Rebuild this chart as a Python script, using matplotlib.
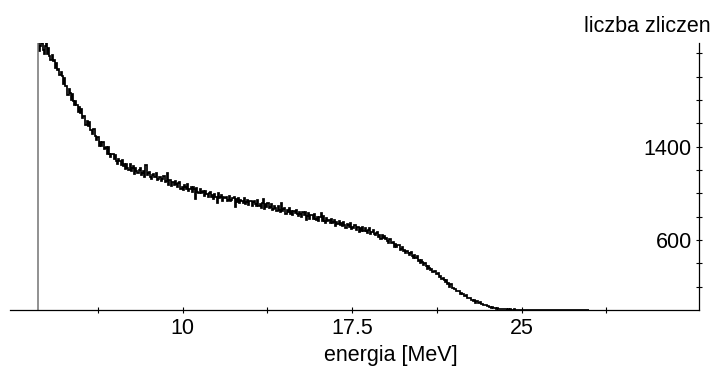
import numpy as np
import matplotlib
matplotlib.use("Agg")
import matplotlib.pyplot as plt

plt.rcParams['font.family'] = ['Liberation Sans', 'DejaVu Sans']

# histogram: first bin edge and bin width [MeV]
E_START = 3.6
BIN = 0.05

# counts per bin (one row = 1 MeV, first row starts at 3.6)
counts = [
    2292, 2220, 2264, 2286, 2227, 2197, 2260, 2330,
    2193, 2250, 2176, 2141, 2190, 2133, 2143, 2072, 2122, 2059, 2069, 2013, 2042, 2007, 1940, 1994, 1917, 1918, 1845, 1892,
    1862, 1801, 1851, 1792, 1761, 1796, 1754, 1695, 1740, 1689, 1722, 1645, 1663, 1664, 1589, 1624, 1578, 1615, 1540, 1541,
    1511, 1549, 1496, 1455, 1485, 1485, 1407, 1441, 1409, 1440, 1377, 1393, 1397, 1334, 1396, 1340, 1310, 1339, 1341, 1294,
    1328, 1282, 1253, 1296, 1274, 1241, 1290, 1234, 1252, 1208, 1251, 1222, 1198, 1250, 1196, 1217, 1231, 1168, 1214, 1189,
    1173, 1197, 1216, 1157, 1177, 1194, 1140, 1240, 1157, 1177, 1187, 1141, 1125, 1155, 1169, 1139, 1176, 1117, 1123, 1143,
    1142, 1104, 1125, 1148, 1099, 1106, 1175, 1076, 1111, 1117, 1062, 1097, 1074, 1110, 1077, 1058, 1089, 1102, 1040, 1053,
    1030, 1075, 1058, 1036, 1078, 1021, 1037, 1052, 1014, 1056, 1037, 950, 1044, 1013, 1000, 1042, 1000, 1011, 1018, 976,
    1020, 991, 970, 1001, 1016, 972, 987, 952, 997, 968, 920, 1002, 957, 973, 988, 936, 973, 957, 973, 938,
    945, 976, 933, 946, 963, 973, 880, 949, 930, 961, 915, 946, 939, 919, 962, 909, 923, 945, 899, 936,
    938, 894, 929, 939, 909, 895, 940, 896, 909, 879, 919, 950, 867, 906, 883, 917, 872, 882, 907, 859,
    867, 893, 877, 846, 891, 861, 844, 920, 846, 865, 875, 825, 857, 841, 872, 827, 853, 818, 852, 832,
    858, 823, 809, 837, 827, 794, 837, 811, 837, 770, 808, 828, 781, 812, 816, 783, 825, 784, 770, 796,
    766, 799, 830, 764, 805, 767, 749, 789, 765, 776, 744, 784, 747, 758, 769, 723, 756, 740, 765, 726,
    746, 719, 754, 727, 705, 738, 728, 710, 744, 697, 716, 702, 726, 684, 713, 716, 672, 700, 680, 713,
    676, 704, 678, 664, 689, 700, 652, 673, 682, 654, 640, 661, 671, 630, 644, 610, 641, 616, 634, 609,
    618, 595, 575, 607, 572, 577, 584, 541, 564, 538, 556, 557, 518, 526, 544, 506, 515, 486, 509, 488,
    475, 492, 496, 466, 449, 470, 448, 462, 424, 431, 401, 426, 410, 385, 405, 378, 355, 378, 362, 345,
    353, 324, 333, 334, 310, 306, 317, 282, 289, 263, 277, 255, 239, 255, 227, 229, 199, 219, 190, 191,
    178, 182, 159, 161, 165, 139, 148, 136, 139, 119, 123, 127, 104, 103, 106, 84, 90, 78, 84, 64,
    74, 61, 64, 65, 52, 52, 41, 46, 44, 31, 33, 25, 30, 21, 24, 15, 18, 12, 13, 9,
    11, 7, 9, 6, 8, 5, 7, 4, 6, 3, 5, 4, 3, 5, 2, 4, 3, 1, 3, 2,
    1, 3, 0, 2, 1, 0, 4, 1, 0, 2, 1, 0, 3, 0, 1, 2, 0, 1, 0, 2,
    0, 1, 0, 3, 0, 0, 1, 0, 2, 0, 1, 0, 0, 2, 0, 0, 1, 0, 0, 1,
    0, 0, 2, 0, 0, 1, 0, 0, 0, 3, 0, 0, 1, 0, 0, 0, 0, 2, 0, 0,
]
edges = E_START + BIN * np.arange(len(counts) + 1)

x_ticks = [6.25, 10, 13.75, 17.5, 21.25, 25, 28.75]
x_labels = ['', '10', '', '17.5', '', '25', '']
y_ticks = [200, 400, 600, 800, 1000, 1200, 1400, 1600, 1800, 2000, 2200]
y_labels = ['', '', '600', '', '', '', '1400', '', '', '', '']

fig = plt.figure(figsize=(7.12, 3.67), dpi=100)
ax = fig.add_axes([10 / 712, 57 / 367, 689.3 / 712, 267 / 367])

ax.stairs(counts, edges, color='black', lw=1.25, baseline=None)
ax.vlines(edges[0], 0, counts[0], color='0.45', lw=1.1)

ax.set_xlim(2.36, 32.86)
ax.set_ylim(0, 2290)

# y axis drawn on the right edge, labels inside
ax.spines['top'].set_visible(False)
ax.spines['right'].set_visible(False)
ax.spines['left'].set_position(('axes', 1.0))
for s in ('left', 'bottom'):
    ax.spines[s].set_linewidth(0.9)

ax.set_xticks(x_ticks)
ax.set_xticklabels(x_labels)
ax.set_yticks(y_ticks)
ax.set_yticklabels(y_labels)
ax.tick_params(direction='inout', length=5, width=0.8, labelsize=15.5, pad=3)

fig.text(391 / 712, 1 - 355 / 367, 'energia [MeV]', ha='center', va='center', fontsize=15.5)
fig.text(711 / 712, 1 - 32 / 367, 'liczba zliczen', ha='right', va='baseline', fontsize=15.5)

fig.savefig('out.png', dpi=100)
